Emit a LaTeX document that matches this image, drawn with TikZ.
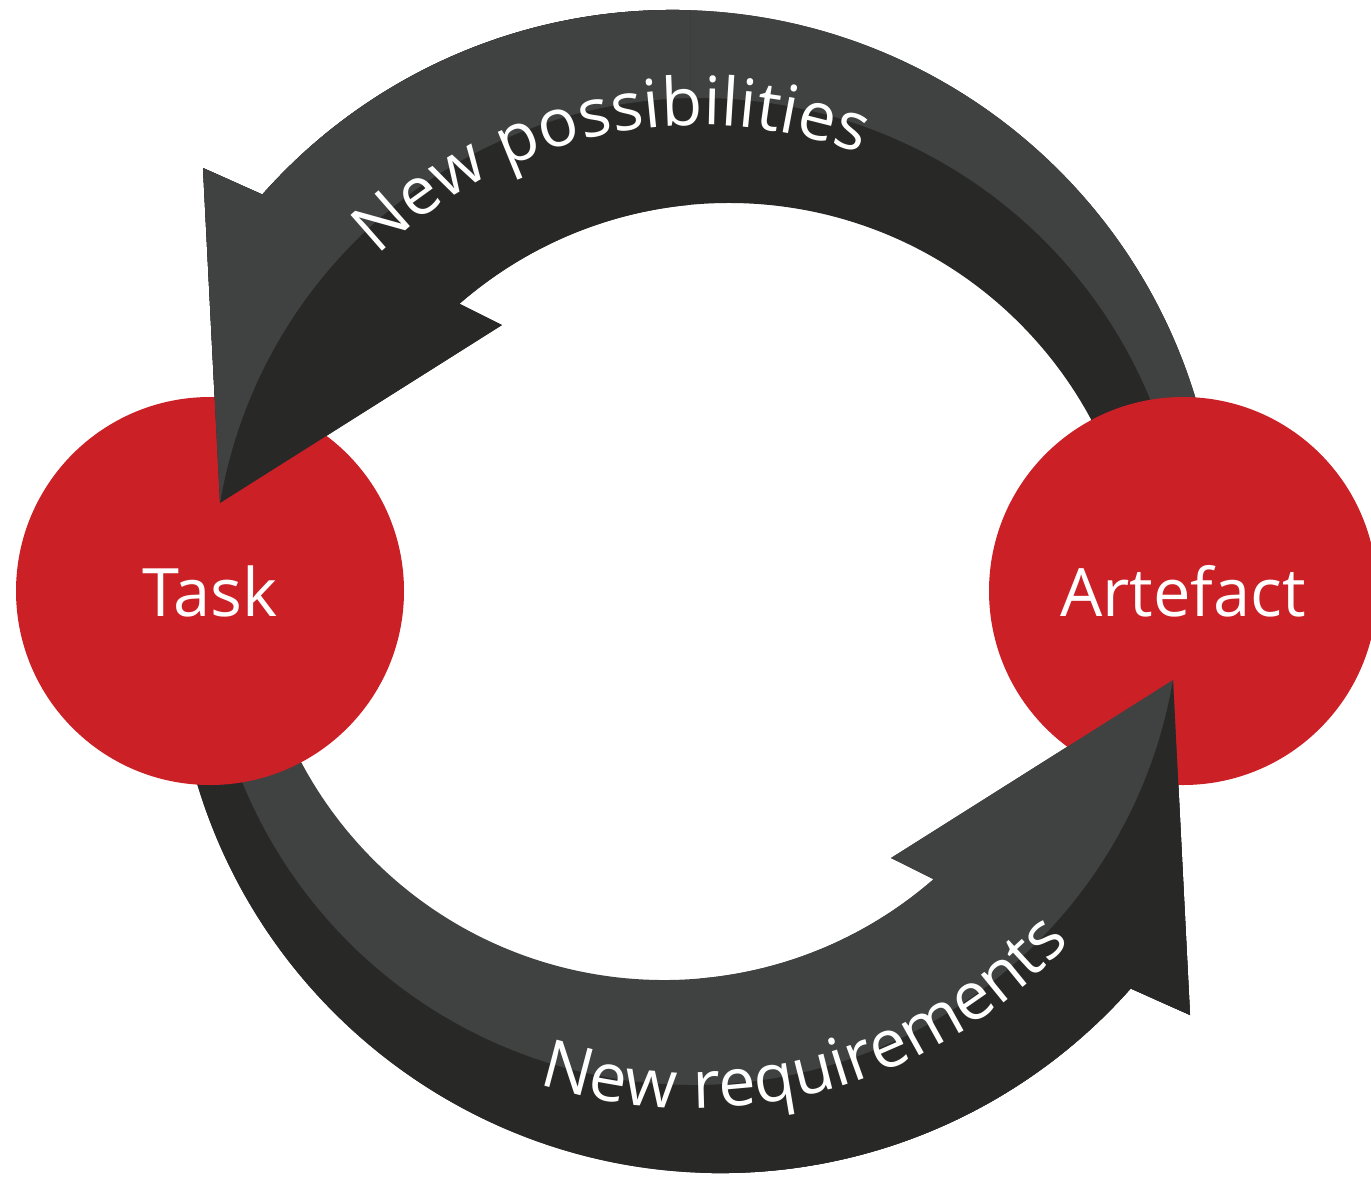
\documentclass[tikz,border=0pt]{standalone}
\usepackage{fontspec}
\setmainfont{Open Sans}
\usetikzlibrary{decorations.text}

\definecolor{loopred}{HTML}{CC2027}
\definecolor{shaftlight}{HTML}{404141}
\definecolor{shaftdark}{HTML}{282827}

\newcommand{\labelsize}{\fontsize{19}{23}\selectfont}

% one curved arrow: #1 body colour, #2 colour of its outer band
\newcommand{\loopshaft}[2]{%
  \fill[#1] (12.169,-5.093) arc[start angle=5, end angle=138.5, radius=5.47]
    -- (2.03,-1.68) -- (2.200,-5.030) -- (5.02,-3.25) -- (4.594,-3.038)
    arc[start angle=131, end angle=15, radius=4.11] -- cycle;
  \fill[#2] (12.169,-5.093) arc[start angle=5, end angle=138.5, radius=5.47]
    -- (2.03,-1.68) -- (2.200,-5.030)
    arc[start angle=170.3, end angle=5, radius=4.87] -- cycle;
}

\begin{document}
\begin{tikzpicture}[
    stage/.style={circle, fill=loopred, text=white, minimum size=3.88cm, inner sep=0pt, font=\labelsize},
    bend label/.style={decorate, decoration={text along path, text align=center, text color=white}}
  ]
  \useasboundingbox (0,0) rectangle (13.71,-11.77);

  % both arrows, the tails run under the circles
  \loopshaft{shaftdark}{shaftlight}
  \begin{scope}[rotate around={180:(6.965,-5.915)}]
    \loopshaft{shaftlight}{shaftdark}
  \end{scope}

  % the two circles
  \node[stage] (task) at (2.10,-5.91) {Task};
  \node[stage] (artefact) at (11.83,-5.91) {Artefact};

  % heads lie on top of the circles
  \begin{scope}
    \clip (0,0) rectangle (6.9,-11.77);
    \loopshaft{shaftdark}{shaftlight}
  \end{scope}
  \begin{scope}
    \clip (7.0,0) rectangle (13.71,-11.77);
    \begin{scope}[rotate around={180:(6.965,-5.915)}]
      \loopshaft{shaftlight}{shaftdark}
    \end{scope}
  \end{scope}

  % labels along the arrows
  \path[bend label, decoration={text={|\labelsize|New possibilities}}]
    (3.375,-3.018) arc[start angle=142, end angle=62, radius=4.60];
  \path[bend label, decoration={text={|\labelsize|New requirements}}]
    (4.775,-10.602) arc[start angle=245, end angle=325, radius=5.10];
\end{tikzpicture}
\end{document}
